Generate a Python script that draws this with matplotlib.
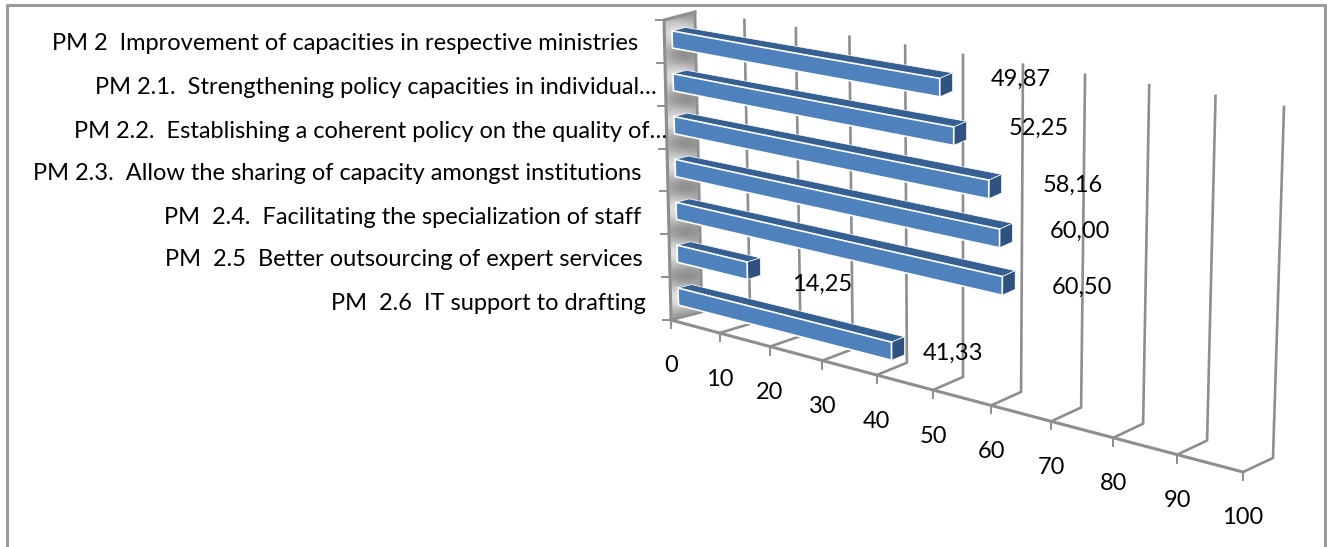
import matplotlib
matplotlib.use("Agg")
import matplotlib.pyplot as plt
from matplotlib.patches import Polygon
import numpy as np

plt.rcParams['font.family'] = ['Lato', 'DejaVu Sans']

labels = ["PM 2  Improvement of capacities in respective ministries",
          "PM 2.1.  Strengthening policy capacities in individual\u2026",
          "PM 2.2.  Establishing a coherent policy on the quality of\u2026",
          "PM 2.3.  Allow the sharing of capacity amongst institutions",
          "PM  2.4.  Facilitating the specialization of staff",
          "PM  2.5  Better outsourcing of expert services",
          "PM  2.6  IT support to drafting"]
values = [49.87, 52.25, 58.16, 60.00, 60.50, 14.25, 41.33]
value_text = ["49,87", "52,25", "58,16", "60,00", "60,50", "14,25", "41,33"]
ticks = [0, 10, 20, 30, 40, 50, 60, 70, 80, 90, 100]

# where the labels sit on the page
label_right = [638, 657, 667, 641, 641, 643, 646]
label_y = [44, 88, 131, 174, 218, 259, 303]
value_pos = [(1021, 79), (1039, 128), (1073, 185), (1080, 231), (1082, 287), (822, 284), (953, 353)]

GRID = "#8e8e8e"
FRONT = "#4f81bd"
TOP = "#376092"
END = "#2f5280"


def curve(a, b, c):
    # quadratic through the values at 0, 50 and 100
    return np.polyfit([0, 50, 100], [a, b, c], 2)


front_x, front_y = curve(671, 933, 1243), curve(320, 390, 472)
back_x, back_y = curve(702, 963, 1273), curve(312, 377, 458)
top_x, top_y = curve(695, 963, 1284), curve(12, 55, 107)


def project(v, d, h):
    # value, depth (0 front, 1 back), height (0 floor, 1 top) to page pixels
    fx, fy = np.polyval(front_x, v), np.polyval(front_y, v)
    bx, by = np.polyval(back_x, v), np.polyval(back_y, v)
    tx, ty = np.polyval(top_x, v), np.polyval(top_y, v)
    return (fx + d * (bx - fx) + h * (tx - bx), fy + d * (by - fy) + h * (ty - by))


fig = plt.figure(figsize=(13.27, 5.47), dpi=100)
ax = fig.add_axes([0, 0, 1, 1])
ax.set_xlim(0, 1327)
ax.set_ylim(547, 0)
ax.axis("off")

# outer frame, open at the bottom
ax.plot([7, 7, 1325, 1325], [547, 5, 5, 547], color="#9a9a9a", lw=2.2)

# back wall
wall = Polygon([project(0, 0, 0), project(0, 0, 1), project(0, 1, 1), project(0, 1, 0)],
               closed=True, facecolor="none", edgecolor="none", transform=ax.transData)
ax.add_patch(wall)
yy, xx = np.mgrid[0:1:300j, 0:1:40j]
shade = 0.76 + 0.16 * np.cos(2 * np.pi * 7 * yy + np.pi) * np.sin(np.pi * xx) - 0.12 * xx ** 2
img = ax.imshow(shade, cmap="gray", vmin=0, vmax=1, extent=(660, 705, 320, 10),
                aspect="auto", zorder=1)
img.set_clip_path(wall)
ax.set_xlim(0, 1327)
ax.set_ylim(547, 0)
px = [project(0, d, h) for d, h in [(0, 0), (0, 1), (1, 1)]]
ax.plot([p[0] for p in px], [p[1] for p in px], color=GRID, lw=2.2, zorder=2)

# value grid: floor line plus wall line for every tick
for v in ticks:
    a, b, c = project(v, 0, 0), project(v, 1, 0), project(v, 1, 1)
    ax.plot([a[0], b[0], c[0]], [a[1], b[1], c[1]], color=GRID, lw=1.9, zorder=2)
    ax.plot([a[0], a[0]], [a[1], a[1] + 8], color=GRID, lw=1.4, zorder=2)
    ax.text(a[0], a[1] + 46, str(v), fontsize=17, ha="center", va="center", color="black", zorder=5)

vs = np.array(ticks)
ax.plot(*project(vs, 0, 0), color=GRID, lw=2.2, zorder=2)

# ticks on the category axis
for i in range(len(labels) + 1):
    x, y = project(0, 0, i / len(labels))
    ax.plot([x - 8, x], [y, y], color=GRID, lw=1.4, zorder=2)

# bars, first category on top
n = len(labels)
d0, d1 = 0.25, 0.68
for i, v in enumerate(values):
    h0 = (n - 1 - i + 0.30) / n
    h1 = (n - 1 - i + 0.70) / n
    u = np.linspace(0, v, 12)
    top = [project(t, d0, h1) for t in u] + [project(t, d1, h1) for t in u[::-1]]
    ax.add_patch(Polygon(top, closed=True, fc=TOP, ec="white", lw=0.5, zorder=3))
    side = [project(v, d0, h0), project(v, d0, h1), project(v, d1, h1), project(v, d1, h0)]
    ax.add_patch(Polygon(side, closed=True, fc=END, ec="white", lw=0.5, zorder=3))
    face = [project(t, d0, h1) for t in u] + [project(t, d0, h0) for t in u[::-1]]
    ax.add_patch(Polygon(face, closed=True, fc=FRONT, ec="white", lw=1.2, zorder=4))

for lab, r, y in zip(labels, label_right, label_y):
    ax.text(r, y, lab, fontsize=17, ha="right", va="center", color="black", zorder=5)

for txt, (x, y) in zip(value_text, value_pos):
    ax.text(x, y, txt, fontsize=17, ha="center", va="center", color="black", zorder=5)

fig.savefig("out.png", dpi=100)
